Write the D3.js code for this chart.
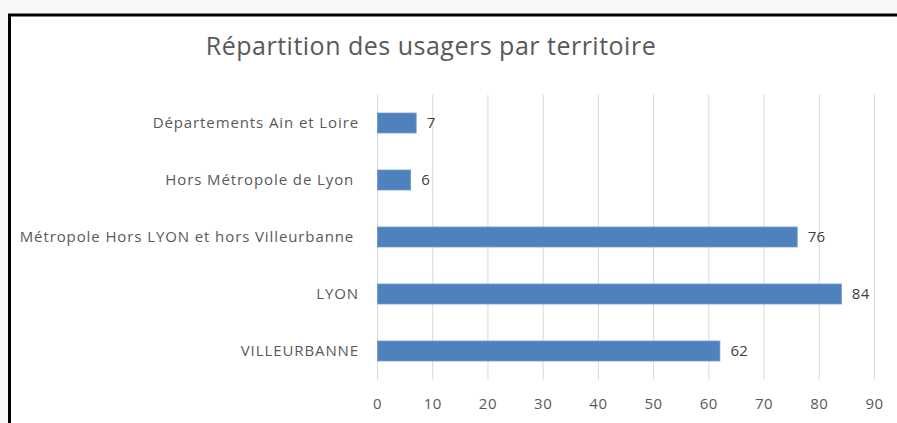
<!DOCTYPE html>
<html>
<head>
<meta charset="utf-8">
<script src="https://cdn.jsdelivr.net/npm/d3@7"></script>
<style>
  html, body { margin: 0; padding: 0; background: #f8f8f8; }
  svg { display: block; }
  svg text { white-space: pre; }
</style>
</head>
<body>
<svg id="chart" width="897" height="423"></svg>
<script>
const title = "Répartition des usagers par territoire";
const categories = [
  "Départements Ain et Loire",
  "Hors Métropole de Lyon ",
  "Métropole Hors LYON et hors Villeurbanne ",
  "LYON",
  "VILLEURBANNE"
];
const values = [7, 6, 76, 84, 62];
const tickValues = [0, 10, 20, 30, 40, 50, 60, 70, 80, 90];

const svg = d3.select("#chart");
const W = 897, H = 423;

// outer background and frame
svg.append("rect").attr("x", 0).attr("y", 0).attr("width", W).attr("height", H).attr("fill", "#f8f8f8");
svg.append("rect").attr("x", 9.5).attr("y", 15).attr("width", W).attr("height", H)
  .attr("fill", "#ffffff").attr("stroke", "#000").attr("stroke-width", 3);

const x = d3.scaleLinear().domain([0, 90]).range([377, 874]);
const y = d3.scaleBand().domain(categories).range([94.5, 379.5])
  .paddingInner(0.65).paddingOuter(0.325);

const font = "'Open Sans', 'Liberation Sans', sans-serif";

// gridlines
svg.append("g").selectAll("line").data(tickValues).join("line")
  .attr("x1", d => x(d) + 0.5).attr("x2", d => x(d) + 0.5)
  .attr("y1", 94.5).attr("y2", 379.5)
  .attr("stroke", "#d9d9d9").attr("stroke-width", 1);

// x axis tick labels
const xAxis = d3.axisBottom(x).tickValues(tickValues).tickSize(0).tickPadding(0);
const gx = svg.append("g").attr("transform", "translate(0,409)").call(xAxis);
gx.select(".domain").remove();
gx.selectAll("text").attr("font-family", font).attr("font-size", 15)
  .attr("fill", "#595959").attr("dy", 0).attr("y", 0).attr("letter-spacing", "0.5px");

// y axis labels
const yAxis = d3.axisLeft(y).tickSize(0).tickPadding(0);
const gy = svg.append("g").attr("transform", "translate(359,0)").call(yAxis);
gy.select(".domain").remove();
gy.selectAll("text").attr("font-family", font).attr("font-size", 15)
  .attr("fill", "#595959").attr("dy", "0.35em").attr("letter-spacing", "0.9px");

// bars
svg.append("g").selectAll("rect").data(categories).join("rect")
  .attr("x", x(0) + 0.5)
  .attr("y", d => y(d))
  .attr("width", (d, i) => x(values[i]) - x(0))
  .attr("height", y.bandwidth())
  .attr("fill", "#4f81bd").attr("stroke", "#6a97cf").attr("stroke-width", 0.8);

// value labels
svg.append("g").selectAll("text").data(categories).join("text")
  .attr("x", (d, i) => x(values[i]) + 11)
  .attr("y", d => y(d) + y.bandwidth() / 2)
  .attr("dy", "0.35em")
  .attr("font-family", font).attr("font-size", 15).attr("fill", "#404040")
  .attr("letter-spacing", "0.3px")
  .text((d, i) => values[i]);

// title
svg.append("text").attr("x", 431).attr("y", 55).attr("text-anchor", "middle")
  .attr("font-family", font).attr("font-size", 25).attr("fill", "#595959")
  .attr("letter-spacing", "0.5px")
  .text(title);
</script>
</body>
</html>
